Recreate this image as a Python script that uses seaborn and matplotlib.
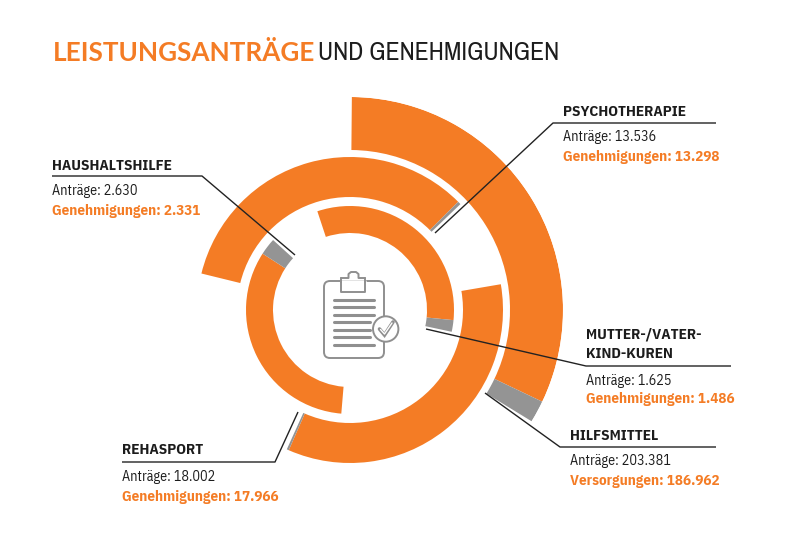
import numpy as np
import pandas as pd
import matplotlib
matplotlib.use("Agg")
import matplotlib.pyplot as plt
from matplotlib.patches import FancyBboxPatch, Circle
import seaborn as sns

# --- data ---
categories = ["Hilfsmittel", "Psychotherapie", "Rehasport", "Haushaltshilfe", "Mutter-/Vater-Kind-Kuren"]
antraege = [203381, 13536, 18002, 2630, 1625]
genehmigungen = [186962, 13298, 17966, 2331, 1486]
arc_start_deg = [0.5, 283.8, 80.3, 184.8, 341.7]
approved_sweep_deg = [115.0, 121.2, 123.3, 118.0, 113.9]
open_sweep_deg = [6.0, 1.2, 0.8, 9.5, 6.5]
ring = [2, 1, 1, 0, 0]

ring_outer = [104, 153, 213]
ring_width = [27, 40, 53]

sns.set_theme(style="white")
COND = ["IBM Plex Sans Condensed", "Liberation Sans", "DejaVu Sans"]
plt.rcParams["font.family"] = COND
orange, grey = sns.color_palette(["#F47C25", "#949494"])
TXT = "#1c1c1c"

df = pd.DataFrame(dict(cat=categories, a=antraege, g=genehmigungen, start=arc_start_deg,
                       ok=approved_sweep_deg, op=open_sweep_deg, ring=ring))

fig = plt.figure(figsize=(8, 5.53), dpi=100, facecolor="white")
W, H = 800, 553
cx, cy, R = 350, 310, ring_outer[-1]
ax = fig.add_axes([(cx - R) / W, (H - cy - R) / H, 2 * R / W, 2 * R / H], projection="polar")
ax.set_theta_zero_location("N")
ax.set_theta_direction(-1)
ax.set_rlim(0, R)
ax.axis("off")
ax.patch.set_alpha(0)
for _, r in df.iterrows():
    o, w = ring_outer[r.ring], ring_width[r.ring]
    ax.bar(np.radians(r.start), w, width=np.radians(r.ok), bottom=o - w, align="edge",
           color=orange, linewidth=0)
    ax.bar(np.radians(r.start + r.ok), w, width=np.radians(r.op), bottom=o - w, align="edge",
           color=grey, linewidth=0)

# overlay in picture pixels for annotation
ov = fig.add_axes([0, 0, 1, 1], facecolor="none")
ov.set_xlim(0, W); ov.set_ylim(H, 0); ov.axis("off")

ov.text(53, 51, "LEISTUNGSANTRÄGE", family=["Lato", "DejaVu Sans"], weight="bold", color=orange,
        fontsize=18.8, va="center_baseline", ha="left")
ov.text(318, 51, "UND GENEHMIGUNGEN", family=["Archivo Narrow", "DejaVu Sans"], color=TXT, fontsize=18.5,
        va="center_baseline", ha="left")

def label(x, heads, y_heads, y1, y2, l1, l2):
    for h, yh in zip(heads, y_heads):
        ov.text(x, yh, h, weight="bold", fontsize=11, color=TXT, va="center_baseline")
    ov.text(x, y1, l1, fontsize=10.2, color=TXT, va="center_baseline")
    ov.text(x, y2, l2, fontsize=10.8, weight="bold", color=orange, va="center_baseline")

def de(n):
    return f"{n:,}".replace(",", ".")

label(563, ["PSYCHOTHERAPIE"], [110], 135, 155, f"Anträge: {de(antraege[1])}", f"Genehmigungen: {de(genehmigungen[1])}")
label(52, ["HAUSHALTSHILFE"], [165], 189, 209, f"Anträge: {de(antraege[3])}", f"Genehmigungen: {de(genehmigungen[3])}")
label(586, ["MUTTER-/VATER-", "KIND-KUREN"], [333, 353], 379, 398, f"Anträge: {de(antraege[4])}", f"Genehmigungen: {de(genehmigungen[4])}")
label(570, ["HILFSMITTEL"], [434], 460, 480, f"Anträge: {de(antraege[0])}", f"Versorgungen: {de(genehmigungen[0])}")
label(122, ["REHASPORT"], [449], 476, 495, f"Anträge: {de(antraege[2])}", f"Genehmigungen: {de(genehmigungen[2])}")

leaders = [
    ([716, 553, 435], [123, 123, 233]),
    ([52, 202, 295], [176, 176, 255]),
    ([731, 586, 426], [366, 366, 329]),
    ([716, 560, 485], [447, 447, 393]),
    ([122, 275, 298], [462, 462, 412]),
]
for xs, ys in leaders:
    ov.plot(xs, ys, color="#222222", lw=1.0, solid_capstyle="butt")

# clipboard icon
ic = "#8f8f8f"
ov.add_patch(FancyBboxPatch((327, 284), 54, 71, boxstyle="round,pad=3,rounding_size=6",
                            fc="white", ec=ic, lw=1.4))
ov.plot([341, 365], [281, 281], color="white", lw=1.8)
ov.plot([341, 341, 365, 365], [281, 292, 292, 281], color=ic, lw=1.4)
ov.plot([341, 348.5, 348.5, 351, 356, 358.5, 358.5, 365],
        [278, 278, 274, 272, 272, 274, 278, 278], color=ic, lw=1.4)
ov.plot([341, 341], [278, 282], color=ic, lw=1.4)
ov.plot([365, 365], [278, 282], color=ic, lw=1.4)
for y, x2 in zip([300, 307.3, 315, 322.3, 330, 337.3, 345], [374, 374, 374, 370, 370, 370, 374]):
    ov.plot([334, x2], [y, y], color=ic, lw=2.2, solid_capstyle="round")
ov.add_patch(Circle((385.7, 329), 12.7, fc="white", ec=ic, lw=1.4, zorder=5))
ov.plot([379.5, 384.5, 393], [329, 335, 322], color=ic, lw=2.6, zorder=6, solid_joinstyle="miter")
ov.plot([380.5, 384.5, 392], [329.5, 334, 323], color="white", lw=1.0, zorder=7)

fig.savefig("out.png", dpi=100)
